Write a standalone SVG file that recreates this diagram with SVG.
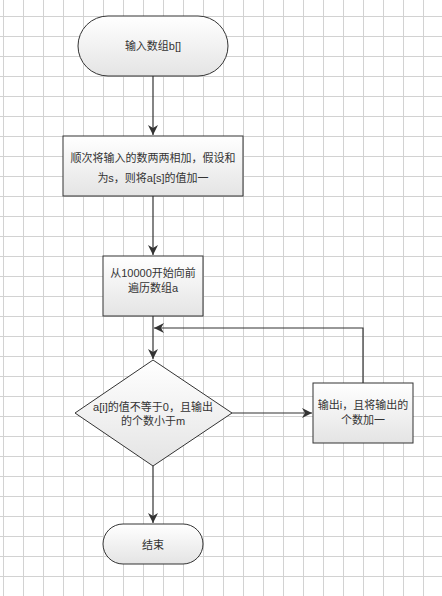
<svg xmlns="http://www.w3.org/2000/svg" width="442" height="596" viewBox="0 0 442 596">
<defs>
<pattern id="grid" x="3" y="16" width="20" height="20" patternUnits="userSpaceOnUse">
<path d="M0.5 0 V20 M0 0.5 H20" fill="none" stroke="#d2d2d2" stroke-width="1"/>
</pattern>
<linearGradient id="fillg" x1="0" y1="0" x2="0" y2="1">
<stop offset="0" stop-color="#ffffff"/>
<stop offset="1" stop-color="#e4e4e4"/>
</linearGradient>
<marker id="arr" viewBox="0 0 10 10" refX="10" refY="5" markerWidth="10" markerHeight="10" markerUnits="userSpaceOnUse" orient="auto">
<path d="M0 0 L10 5 L0 10 L3 5 Z" fill="#333333"/>
</marker>
</defs>
<style>
.shape{fill:url(#fillg);stroke:#333333;stroke-width:1}
.t{font-family:"Liberation Sans","Noto Sans CJK SC",sans-serif;font-size:11px;fill:#333333;text-anchor:middle;dominant-baseline:central}
.c{fill:none;stroke:#333333;stroke-width:1.2}
</style>
<rect x="0" y="0" width="442" height="596" fill="#ffffff"/>
<rect x="0" y="0" width="442" height="596" fill="url(#grid)"/>
<g id="connectors">
<path class="c" d="M153 76 V135" marker-end="url(#arr)"/>
<path class="c" d="M153 196 V255" marker-end="url(#arr)"/>
<path class="c" d="M153 316 V359" marker-end="url(#arr)"/>
<path class="c" d="M232 413 H312" marker-end="url(#arr)"/>
<path class="c" d="M363 383 V328 H154" marker-end="url(#arr)"/>
<path class="c" d="M153 466 V523" marker-end="url(#arr)"/>
</g>
<g id="start">
<rect class="shape" x="78" y="16" width="150" height="60" rx="30" ry="30"/>
<text class="t" x="153" y="46">输入数组b[]</text>
</g>
<g id="step1">
<rect class="shape" x="63" y="136" width="180" height="60"/>
<text class="t" x="153" y="158">顺次将输入的数两两相加，假设和</text>
<text class="t" x="153" y="178">为s，则将a[s]的值加一</text>
</g>
<g id="step2">
<rect class="shape" x="103" y="256" width="100" height="60"/>
<text class="t" x="153" y="273">从10000开始向前</text>
<text class="t" x="153" y="288">遍历数组a</text>
</g>
<g id="decision">
<polygon class="shape" points="153,360 232,413 153,466 75,413"/>
<text class="t" x="153" y="407">a[i]的值不等于0，且输出</text>
<text class="t" x="153" y="421">的个数小于m</text>
</g>
<g id="output">
<rect class="shape" x="313" y="383" width="100" height="60"/>
<text class="t" x="363" y="405">输出i，且将输出的</text>
<text class="t" x="363" y="420">个数加一</text>
</g>
<g id="end">
<rect class="shape" x="103" y="524" width="100" height="40" rx="20" ry="20"/>
<text class="t" x="153" y="545">结束</text>
</g>
</svg>
